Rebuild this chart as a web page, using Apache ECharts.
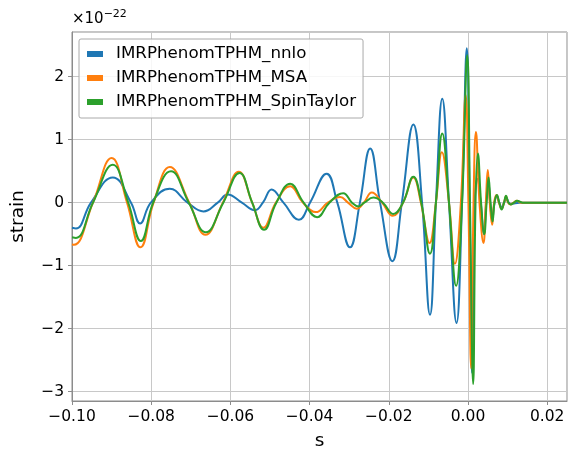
<!DOCTYPE html>
<html>
<head>
<meta charset="utf-8">
<script src="https://cdn.jsdelivr.net/npm/echarts@6/dist/echarts.min.js"></script>
<style>
  html, body { margin: 0; background: #fff; }
  #chart { width: 576px; height: 462px; }
</style>
</head>
<body>
<div id="chart"></div>
<script>
// waveform names, as in the legend
const seriesNames = ['IMRPhenomTPHM_nnlo', 'IMRPhenomTPHM_MSA', 'IMRPhenomTPHM_SpinTaylor']

// [time (s), strain (1e-22)]: extrema and zero crossings
const nnlo = [
  [-0.1, -0.40], [-0.099, -0.41], [-0.0952, 0], [-0.0897, 0.40], [-0.0851, 0], [-0.0828, -0.33],
  [-0.0801, 0], [-0.0753, 0.22], [-0.0708, 0], [-0.0668, -0.14], [-0.0632, 0], [-0.0607, 0.13],
  [-0.0571, 0], [-0.0538, -0.12], [-0.0518, 0], [-0.0496, 0.21], [-0.0466, 0], [-0.0427, -0.27],
  [-0.0399, 0], [-0.0357, 0.46], [-0.033, 0], [-0.0298, -0.71], [-0.0273, 0], [-0.0247, 0.86],
  [-0.0222, 0], [-0.0191, -0.93], [-0.0167, 0], [-0.0138, 1.24], [-0.0116, 0], [-0.0096, -1.78],
  [-0.0081, 0], [-0.0065, 1.65], [-0.0048, 0], [-0.0029, -1.91], [-0.0015, 0], [-0.0003, 2.45],
  [0.0004, 0], [0.001, -2.7], [0.0017, 0], [0.0024, 0.38], [0.0032, 0], [0.004, -0.5],
  [0.0046, 0], [0.0051, 0.35], [0.0056, 0], [0.0061, -0.28], [0.0067, 0], [0.0073, 0.1],
  [0.0079, 0], [0.0085, -0.08], [0.0091, 0], [0.0097, 0.07], [0.0103, 0], [0.0108, -0.02],
  [0.013, 0], [0.025, 0]
]

const msa = [
  [-0.1, -0.66], [-0.0995, -0.67], [-0.0947, 0], [-0.09, 0.71], [-0.0861, 0], [-0.0827, -0.71],
  [-0.0794, 0], [-0.0753, 0.565], [-0.0704, 0], [-0.0663, -0.51], [-0.0619, 0], [-0.0579, 0.49],
  [-0.0545, 0], [-0.0517, -0.4], [-0.0485, 0], [-0.0449, 0.26], [-0.0417, 0], [-0.0384, -0.15],
  [-0.0354, 0], [-0.0323, 0.09], [-0.0303, 0], [-0.0281, -0.095], [-0.0263, 0], [-0.0243, 0.16],
  [-0.0217, 0], [-0.019, -0.21], [-0.0164, 0], [-0.0138, 0.4], [-0.0119, 0], [-0.0097, -0.64],
  [-0.0081, 0], [-0.0066, 0.8], [-0.0048, 0], [-0.0033, -0.97], [-0.0018, 0], [-0.0006, 1.71],
  [0.0001, 0], [0.0008, -2.63], [0.0014, 0], [0.002, 1.12], [0.0029, 0], [0.0039, -0.64],
  [0.0045, 0], [0.005, 0.52], [0.0055, 0], [0.0061, -0.35], [0.0066, 0], [0.0072, 0.12],
  [0.0078, 0], [0.0085, -0.1], [0.0091, 0], [0.0096, 0.1], [0.0101, 0], [0.0107, -0.03],
  [0.0115, 0], [0.0123, 0.03], [0.0135, 0], [0.025, 0]
]

const spinTaylor = [
  [-0.1, -0.55], [-0.099, -0.56], [-0.0947, 0], [-0.0897, 0.6], [-0.0858, 0], [-0.0826, -0.61],
  [-0.0795, 0], [-0.075, 0.5], [-0.0705, 0], [-0.0662, -0.47], [-0.0618, 0], [-0.0577, 0.47],
  [-0.0545, 0], [-0.0515, -0.43], [-0.0484, 0], [-0.0449, 0.3], [-0.0415, 0], [-0.0381, -0.23],
  [-0.035, 0], [-0.0315, 0.15], [-0.0293, 0], [-0.0277, -0.06], [-0.0262, 0], [-0.0239, 0.08],
  [-0.0215, 0], [-0.0189, -0.18], [-0.0164, 0], [-0.0138, 0.41], [-0.0118, 0], [-0.0096, -0.81],
  [-0.0081, 0], [-0.0065, 1.1], [-0.0048, 0], [-0.003, -1.32], [-0.0015, 0], [-0.0002, 2.34],
  [0.0005, 0], [0.0013, -2.88], [0.0019, 0], [0.0025, 0.78], [0.0033, 0], [0.0041, -0.5],
  [0.0047, 0], [0.0052, 0.4], [0.0057, 0], [0.0062, -0.3], [0.0067, 0], [0.0073, 0.12],
  [0.0079, 0], [0.0085, -0.11], [0.0091, 0], [0.0096, 0.11], [0.0102, 0], [0.0108, -0.03],
  [0.0116, 0], [0.0124, 0.03], [0.0138, 0], [0.025, 0]
]

const colors = ['#1f77b4', '#ff7f0e', '#2ca02c']
const font = 'DejaVu Sans'
const axisGray = '#8c8c8c'
const gridGray = '#c8c8c8'

const fmtMinus = (s) => s.replace('-', '\u2212')

const chart = echarts.init(document.getElementById('chart'))

chart.setOption({
  animation: false,
  color: colors,
  textStyle: { fontFamily: font },
  title: {
    text: '{b|\u00d710}{s|\u221222}',
    left: 72,
    top: 9,
    padding: 0,
    textStyle: {
      fontWeight: 'normal',
      rich: {
        b: { fontFamily: font, fontSize: 15, fontWeight: 'normal', lineHeight: 18, verticalAlign: 'bottom', color: '#000' },
        s: { fontFamily: font, fontSize: 11, fontWeight: 'normal', lineHeight: 18, verticalAlign: 'top', color: '#000' },
      },
    },
  },
  legend: {
    orient: 'vertical',
    left: 79,
    top: 39,
    padding: [6, 7, 7, 8],
    itemGap: 6,
    itemWidth: 16,
    itemHeight: 6,
    icon: 'rect',
    backgroundColor: 'rgba(255,255,255,0.85)',
    borderColor: '#aaaaaa',
    borderWidth: 1,
    borderRadius: 2,
    textStyle: { fontFamily: font, fontSize: 16.7, lineHeight: 18, color: '#000', padding: [0, 0, 0, 8] },
    data: seriesNames,
  },
  grid: {
    left: 72,
    top: 32,
    right: 9,
    bottom: 61,
    show: true,
    borderColor: axisGray,
    borderWidth: 1,
  },
  xAxis: {
    type: 'value',
    min: -0.1,
    max: 0.025,
    interval: 0.02,
    name: 's',
    nameLocation: 'middle',
    nameGap: 31,
    nameTextStyle: { fontFamily: font, fontSize: 18.5, color: '#000' },
    axisLine: { show: true, onZero: false, lineStyle: { color: axisGray } },
    axisTick: { show: true, length: 4, lineStyle: { color: axisGray } },
    axisLabel: {
      margin: 8,
      fontFamily: font,
      fontSize: 15.5,
      color: '#000',
      showMaxLabel: false,
      formatter: (v) => fmtMinus(v.toFixed(2)),
    },
    splitLine: { show: true, lineStyle: { color: gridGray, width: 1 } },
  },
  yAxis: {
    type: 'value',
    min: -3.15,
    max: 2.71,
    name: 'strain',
    nameLocation: 'middle',
    nameGap: 44,
    nameTextStyle: { fontFamily: font, fontSize: 18.5, color: '#000' },
    axisLine: { show: true, onZero: false, lineStyle: { color: axisGray } },
    axisTick: { show: true, length: 4, lineStyle: { color: axisGray } },
    axisLabel: {
      margin: 8,
      fontFamily: font,
      fontSize: 15.5,
      color: '#000',
      showMinLabel: false,
      showMaxLabel: false,
      formatter: (v) => fmtMinus(String(Math.round(v))),
    },
    splitLine: { show: true, lineStyle: { color: gridGray, width: 1 } },
  },
  series: [nnlo, msa, spinTaylor].map((data, i) => ({
    name: seriesNames[i],
    type: 'line',
    data,
    smooth: 0.45,
    showSymbol: false,
    clip: true,
    lineStyle: { width: 2, color: colors[i] },
    itemStyle: { color: colors[i] },
    z: 2 + i,
  })),
})
</script>
</body>
</html>
